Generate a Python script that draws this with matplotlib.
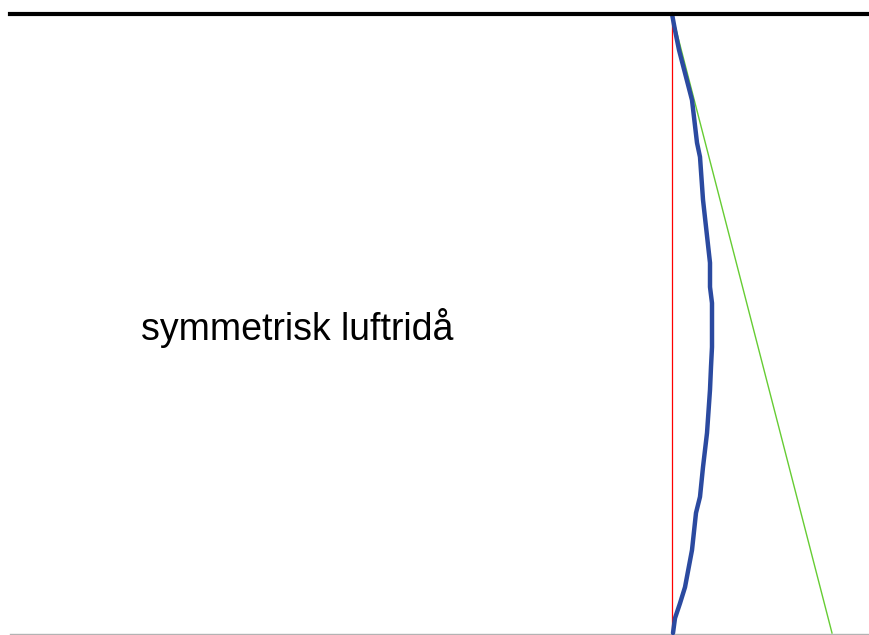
import numpy as np
import matplotlib.pyplot as plt

# height above floor (0 = floor, 1 = ceiling) and air-jet centreline deviation
height = [1.0, 0.974, 0.942, 0.861, 0.792, 0.769, 0.700, 0.598, 0.559, 0.533,
          0.462, 0.430, 0.393, 0.323, 0.268, 0.220, 0.194, 0.134, 0.074, 0.048,
          0.024, 0.0]
deviation = [0.0, 0.075, 0.175, 0.50, 0.625, 0.70, 0.775, 0.95, 0.95, 1.0,
             1.0, 0.975, 0.95, 0.875, 0.775, 0.70, 0.60, 0.50, 0.325, 0.20,
             0.075, 0.025]

# reference lines
centre_h = [0.0, 1.0]
centre_x = [0.0, 0.0]
free_jet_h = [1.0, 0.0]
free_jet_x = [0.0, 4.0]

label = "symmetrisk luftridå"

fig = plt.figure(figsize=(8.69, 6.35), dpi=100)
ax = fig.add_axes([0, 0, 1, 1])

ax.plot(centre_x, centre_h, color="#ff0000", lw=0.9, zorder=2)
ax.plot(free_jet_x, free_jet_h, color="#66cc33", lw=1.0, zorder=2)
ax.plot(deviation, height, color="#2b4aa0", lw=3.2, solid_capstyle="round",
        solid_joinstyle="round", zorder=3)

# ceiling and floor
ax.plot([-16.55, 4.9], [1.0, 1.0], color="black", lw=3.0, zorder=4)
ax.plot([-16.55, 4.95], [-0.002, -0.002], color="#b3b3b3", lw=1.0, zorder=1)

ax.text(-9.36, 0.493, label, fontsize=27, family="Liberation Sans",
        ha="center", va="center")

ax.set_xlim(-16.8, 4.925)
ax.set_ylim(-0.0032, 1.0226)
ax.axis("off")

fig.savefig("out.png", dpi=100)
